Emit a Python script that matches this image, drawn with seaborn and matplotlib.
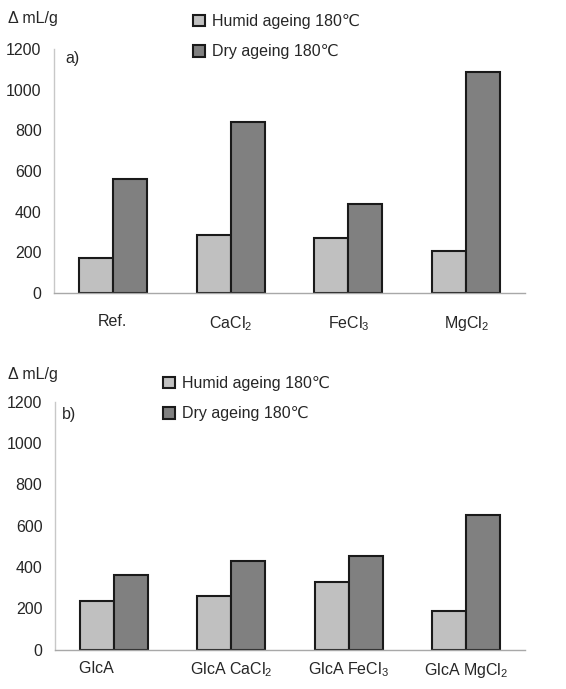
import matplotlib
matplotlib.use("Agg")
import matplotlib.pyplot as plt
import seaborn as sns
import pandas as pd

sns.set_style("white")
plt.rcParams['font.family'] = ['Liberation Sans', 'DejaVu Sans']
plt.rcParams['mathtext.default'] = 'regular'

series = ["Humid ageing 180\u2103", "Dry ageing 180\u2103"]
cats_a = ["Ref.", "CaCl$_2$", "FeCl$_3$", "MgCl$_2$"]
humid_a = [172, 285, 272, 207]
dry_a = [560, 840, 440, 1085]
cats_b = ["GlcA        ", "GlcA CaCl$_2$", "GlcA FeCl$_3$", "GlcA MgCl$_2$"]
humid_b = [233, 258, 329, 186]
dry_b = [361, 430, 451, 650]
yticks = [0, 200, 400, 600, 800, 1000, 1200]
panel_labels = ["a)", "b)"]
ylabel = "\u0394 mL/g"

colors = ["#C0C0C0", "#808080"]
FS = 11.5

W, H = 566, 689
fig = plt.figure(figsize=(W / 100, H / 100), dpi=100)

def fx(px):
    return px / W

def fy(py):
    return 1 - py / H

panels = [
    dict(cats=cats_a, humid=humid_a, dry=dry_a, top=49, bottom=293, left=54, right=525,
         leg=(182, 3), ylab=(8, 18), plab=(65, 58), xpad=15),
    dict(cats=cats_b, humid=humid_b, dry=dry_b, top=401.5, bottom=649.5, left=55, right=525,
         leg=(152, 365), ylab=(8, 375), plab=(62, 415), xpad=8),
]

for i, p in enumerate(panels):
    ax = fig.add_axes([fx(p['left']), fy(p['bottom']), fx(p['right'] - p['left']),
                       (p['bottom'] - p['top']) / H])
    df = pd.DataFrame({
        "cat": p['cats'] * 2,
        "series": [series[0]] * 4 + [series[1]] * 4,
        "value": p['humid'] + p['dry'],
    })
    sns.barplot(data=df, x="cat", y="value", hue="series", palette=colors,
                width=0.576, edgecolor="#1a1a1a", linewidth=1.5, ax=ax, saturation=1)
    ax.set_xlim(-0.5, 3.5)
    ax.set_ylim(0, 1200)
    ax.set_yticks(yticks)
    ax.set_xlabel("")
    ax.set_ylabel("")
    for s in ["top", "right"]:
        ax.spines[s].set_visible(False)
    ax.spines["left"].set_color("#c8c8c8")
    ax.spines["bottom"].set_color("#a8a8a8")
    ax.spines["left"].set_linewidth(1.0)
    ax.spines["bottom"].set_linewidth(1.0)
    ax.tick_params(axis="y", which="major", direction="out", length=3, width=1,
                   color="#c8c8c8", labelsize=FS, pad=6)
    ax.tick_params(axis="x", which="major", length=0, labelsize=FS, pad=p['xpad'])
    ax.set_xticks([-0.5, 0.5, 1.5, 2.5, 3.5], minor=True)
    ax.tick_params(axis="x", which="minor", direction="out", length=5, width=1, color="#b8b8b8")
    handles, labels = ax.get_legend_handles_labels()
    ax.legend(handles, labels, loc="upper left",
              bbox_to_anchor=(fx(p['leg'][0]), fy(p['leg'][1])),
              bbox_transform=fig.transFigure, frameon=False, fontsize=FS,
              handlelength=0.75, handleheight=0.75, handletextpad=0.4, labelspacing=0.95,
              borderpad=0.2)
    fig.text(fx(p['ylab'][0]), fy(p['ylab'][1]), ylabel, fontsize=FS, va="center", ha="left")
    fig.text(fx(p['plab'][0]), fy(p['plab'][1]), panel_labels[i], fontsize=FS, va="center", ha="left")

fig.savefig("out.png", dpi=100)
